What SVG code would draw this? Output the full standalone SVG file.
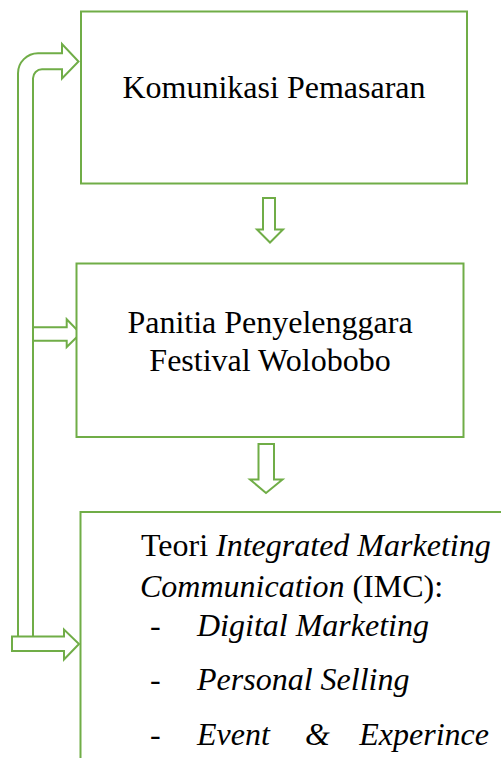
<svg xmlns="http://www.w3.org/2000/svg" width="501" height="758" viewBox="0 0 501 758">
<style>
.box{fill:#fff;stroke:#70AD47;stroke-width:2}
.arr{fill:#fff;stroke:#70AD47;stroke-width:2;stroke-linejoin:miter}
.t{font-family:"Liberation Serif","Times New Roman",serif;font-size:32px;fill:#000}
.i{font-style:italic}
</style>
<rect width="501" height="758" fill="#fff"/>
<g id="connectors">
<path class="arr" d="M18,636 V73.3 A20,20 0 0 1 38,53.3 H62 V44 L78.5,61.5 L62,78.5 V69.3 H42 A9,9 0 0 0 33,78.3 V636"/>
<path class="arr" d="M33,327.3 H66.7 V319.3 L80.5,333.5 L66.7,347 V340.7 H33 Z"/>
<path class="arr" d="M12,636.5 H64 V629.5 L79,644 L64,659.5 V651 H12 Z"/>
<path class="arr" d="M263,198 H275 V229.5 H283 L270,242.5 L257,229.5 H263 Z"/>
<path class="arr" d="M258.5,444 H274 V479.5 H282.5 L266,493 L250,479.5 H258.5 Z"/>
</g>
<g id="node-komunikasi">
<rect class="box" x="81" y="11.5" width="386" height="172"/>
<text class="t" x="274" y="98" text-anchor="middle">Komunikasi Pemasaran</text>
</g>
<g id="node-panitia">
<rect class="box" x="76.5" y="263.5" width="387" height="173.5"/>
<text class="t" x="270" y="333" text-anchor="middle">Panitia Penyelenggara</text>
<text class="t" x="270" y="371" text-anchor="middle">Festival Wolobobo</text>
</g>
<g id="node-imc">
<path class="box" d="M80.5,760 V512 H505"/>
<text class="t" x="141" y="556">Teori <tspan class="i">Integrated Marketing</tspan></text>
<text class="t" x="140" y="597"><tspan class="i">Communication</tspan> (IMC):</text>
<text class="t" x="150" y="636">-</text>
<text class="t i" x="197" y="636">Digital Marketing</text>
<text class="t" x="150" y="690">-</text>
<text class="t i" x="197" y="690">Personal Selling</text>
<text class="t" x="150" y="745">-</text>
<text class="t i" x="197" y="745">Event</text>
<text class="t i" x="305" y="745">&amp;</text>
<text class="t i" x="489" y="745" text-anchor="end">Experince</text>
</g>
</svg>
